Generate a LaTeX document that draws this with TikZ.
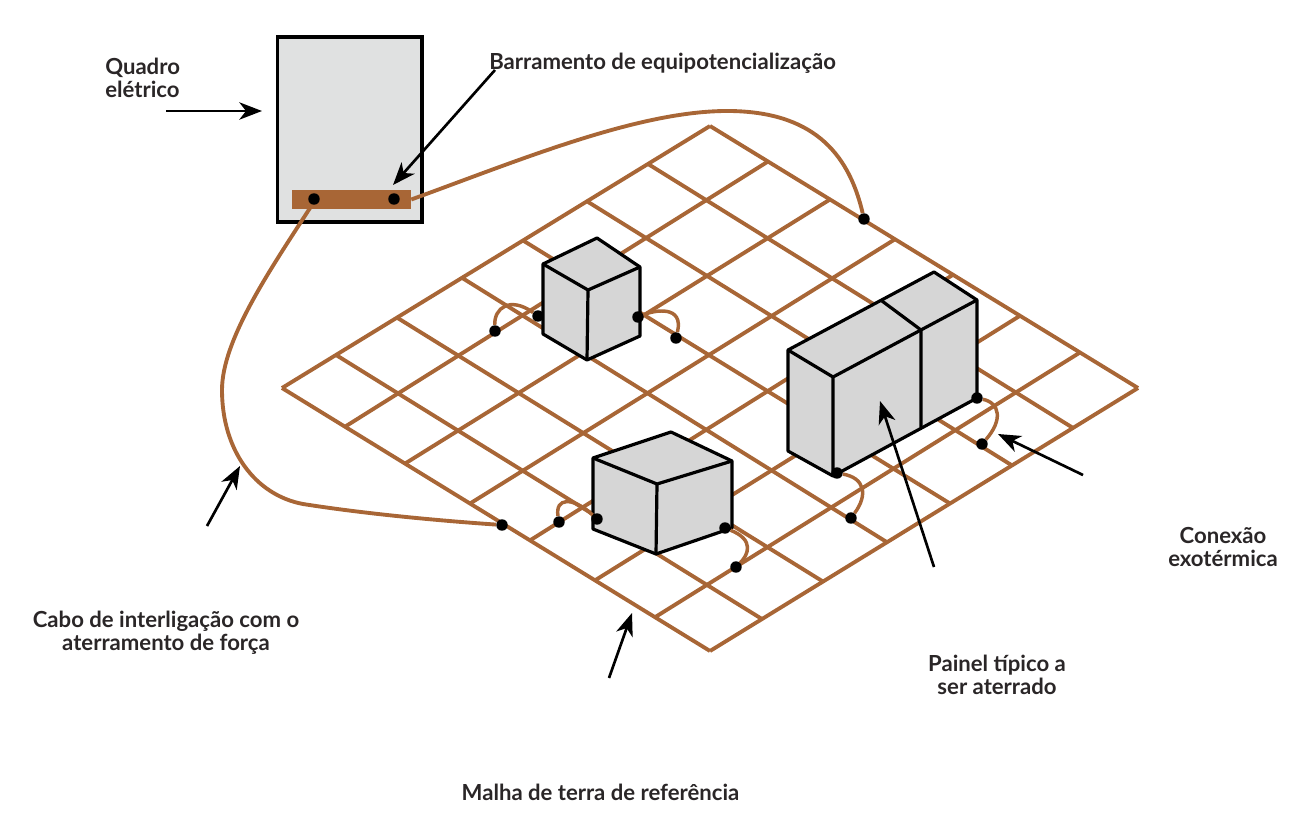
\documentclass[tikz,border=0pt]{standalone}
\usepackage{fontspec}
\setmainfont{Lato}
\usetikzlibrary{arrows.meta,calc}
\definecolor{cobre}{HTML}{A86636}
\definecolor{chapa}{HTML}{E0E1E1}
\definecolor{caixa}{HTML}{D6D6D6}
\definecolor{tinta}{HTML}{2A2627}
\tikzset{
  fio/.style={draw=cobre, line width=2.9pt},
  jumper/.style={draw=cobre, line width=2.6pt},
  caixaface/.style={draw=black, fill=caixa, line width=2.4pt, line join=round},
  aresta/.style={draw=black, line width=2.4pt},
  ponto/.style={circle, fill=black, inner sep=0pt, minimum size=8.6pt},
  seta/.style={draw=black, line width=2pt, -{Stealth[length=17pt, width=13pt, inset=5pt]}},
  rotulo/.style={font=\bfseries\fontsize{16.6}{17.4}\selectfont, text=tinta, align=center, inner sep=0pt},
}
\begin{document}
\begin{tikzpicture}[x=0.75pt, y=-0.75pt]
\useasboundingbox (0,0) rectangle (1306,828);

\coordinate (L) at (282,388);
\coordinate (T) at (710,126);
\coordinate (R) at (1138,388);
\coordinate (B) at (710,651);

% malha
\foreach \p/\q in {0/0,54/52,115/113,180/177,241/240,305/302,366/363,428/428}
  \draw[fio] ($(L)!\p/428!(T)$) -- ($(B)!\q/428!(R)$);
\foreach \p/\q in {0/0,63/58,123/120,188/185,248/243,313/310,373/370,428/428}
  \draw[fio] ($(L)!\p/428!(B)$) -- ($(T)!\q/428!(R)$);

% quadro
\node[draw=black, fill=chapa, line width=2.8pt, minimum width=108.5pt, minimum height=138.5pt] (quadro) at (349.8,129.5) {};
\node[fill=cobre, minimum width=89.25pt, minimum height=14.25pt, inner sep=0pt] (barra) at (351.5,199.5) {};

% caixa 1
\draw[caixaface] (543,264) -- (597,238) -- (640,267) -- (640,336) -- (587,360) -- (543,334) -- cycle;
\draw[aresta] (543,264) -- (588,290) -- (640,267) (588,290) -- (587,360);

% caixa 2
\draw[caixaface] (593,458) -- (671,432) -- (732,461) -- (732,528) -- (656,554) -- (593,529) -- cycle;
\draw[aresta] (593,458) -- (657,484) -- (732,461) (657,484) -- (656,554);

% painel
\draw[caixaface] (788,350) -- (934,272) -- (977,300) -- (977,398) -- (833,476) -- (788,451) -- cycle;
\draw[aresta] (788,350) -- (833,377) -- (977,300) (833,377) -- (833,476);
\draw[aresta] (882,301) -- (921,330) -- (921,427);

% pontos
\node[ponto] (b1) at (314,199) {};
\node[ponto] (b2) at (394,199) {};
\node[ponto] (m1) at (864,219) {};
\node[ponto] (m2) at (502,525) {};
\node[ponto] (a1) at (538,316) {};
\node[ponto] (a2) at (495,331) {};
\node[ponto] (a3) at (638,317) {};
\node[ponto] (a4) at (676,338) {};
\node[ponto] (c1) at (597,519) {};
\node[ponto] (c2) at (559,522) {};
\node[ponto] (c3) at (725,528) {};
\node[ponto] (c4) at (736,567) {};
\node[ponto] (d1) at (837,473) {};
\node[ponto] (d2) at (851,518) {};
\node[ponto] (d3) at (977,398) {};
\node[ponto] (d4) at (982,444) {};

% cabos
\draw[fio] (barra.east) .. controls (520,160) and (640,110) .. (730,111) .. controls (810,112) and (848,150) .. (m1);
\coordinate (cb) at (310,208);
\coordinate (cm) at (222,390);
\coordinate (cp) at (303,504);
\draw[fio] (cb) .. controls (270,270) and (222,340) .. (cm) .. controls (222,450) and (255,495) .. (cp) .. controls (360,513) and (430,520) .. (m2);

\draw[jumper] (a2) .. controls (494,308) and (510,296) .. (a1);
\draw[jumper] (a3) .. controls (655,310) and (684,305) .. (a4);
\draw[jumper] (c2) .. controls (555,498) and (572,496) .. (c1);
\draw[jumper] (c3) .. controls (755,540) and (748,555) .. (c4);
\draw[jumper] (d1) .. controls (865,478) and (868,495) .. (d2);
\draw[jumper] (d3) .. controls (1000,403) and (1003,420) .. (d4);

% textos
\node[rotulo, align=left, anchor=west] (quadrotxt) at (105,78) {Quadro\\elétrico};
\node[rotulo, anchor=west] (barratxt) at (489,63.5) {Barramento de equipotencialização};
\node[rotulo] (cabotxt) at (166,633) {Cabo de interligação com o\\aterramento de força};
\node[rotulo] (malhatxt) at (600.5,792) {Malha de terra de referência};
\node[rotulo] (paineltxt) at (997,674.5) {Painel típico a\\ser aterrado};
\node[rotulo] (conexaotxt) at (1223,547) {Conexão\\exotérmica};

% setas
\coordinate (s1a) at (166,111);
\coordinate (s1b) at (262,111);
\coordinate (s2a) at (495,70);
\coordinate (s2b) at (393,185);
\coordinate (s3a) at (207,526);
\coordinate (s3b) at (240,466);
\coordinate (s4a) at (609,678);
\coordinate (s4b) at (632,613);
\coordinate (s5a) at (934,567);
\coordinate (s5b) at (880,401);
\coordinate (s6a) at (1083,475);
\coordinate (s6b) at (998,434);
\foreach \i in {1,...,6}
  \draw[seta] (s\i a) -- (s\i b);

\end{tikzpicture}
\end{document}
